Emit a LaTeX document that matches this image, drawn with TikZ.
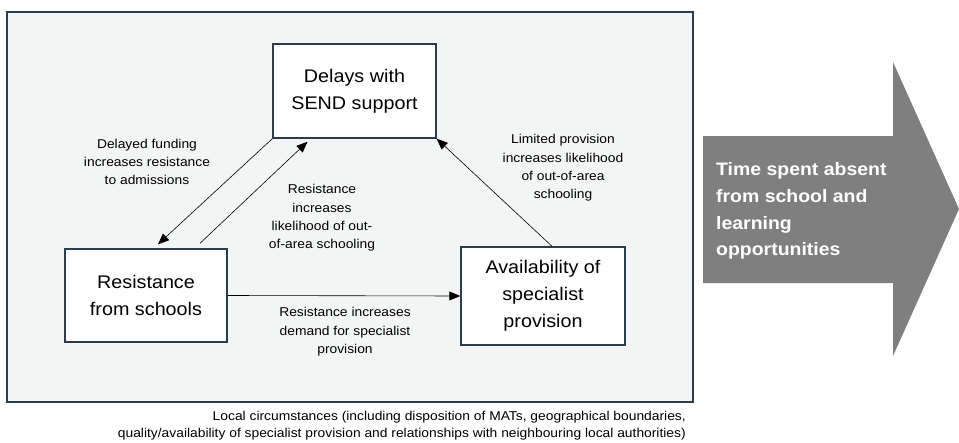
\documentclass[tikz,border=0pt]{standalone}
\usepackage{fontspec}
\setmainfont[FakeStretch=1.08]{Liberation Sans}
\usetikzlibrary{arrows.meta}

\definecolor{framegrey}{HTML}{F3F5F5}
\definecolor{frameline}{HTML}{2B3C4C}
\definecolor{arrowgrey}{HTML}{7F7F7F}

\begin{document}
\begin{tikzpicture}[x=1pt,y=-1pt,
  factor/.style={draw=frameline,line width=1.4pt,fill=white,align=center,
    inner sep=0pt,font=\fontsize{18.3}{27}\selectfont},
  link/.style={draw,line width=0.6pt,-{Triangle[length=11pt,width=9pt]}},
  linklabel/.style={align=center,font=\fontsize{12.8}{18.4}\selectfont}]

\useasboundingbox (0,0) rectangle (959,442);

% context frame
\draw[frameline,line width=1.4pt,fill=framegrey] (7,12) rectangle (693,402);

% factors
\node[factor,minimum width=163pt,minimum height=94pt] (delays) at (354.5,91)
  {Delays with\\SEND support};
\node[factor,minimum width=162pt,minimum height=93pt] (resist) at (146,295.5)
  {Resistance\\from schools};
\node[factor,minimum width=164pt,minimum height=98pt] (avail) at (543,296)
  {Availability of\\specialist\\provision};

% links between factors
\draw[link] (delays.south west) -- ([xshift=12pt,yshift=4pt]resist.north);
\draw[link] ([xshift=54pt,yshift=5pt]resist.north) -- ([xshift=-47pt,yshift=-3pt]delays.south);
\draw[link] (resist.east) -- (avail.west);
\draw[link] ([xshift=9pt]avail.north) -- (delays.south east);

\node[linklabel] (lbl_fund) at (147,162)
  {Delayed funding\\increases resistance\\to admissions};
\node[linklabel] (lbl_out) at (322,218)
  {Resistance\\increases\\likelihood of out-\\of-area schooling};
\node[linklabel] (lbl_limit) at (563,168)
  {Limited provision\\increases likelihood\\of out-of-area\\schooling};
\node[linklabel] (lbl_demand) at (345,332)
  {Resistance increases\\demand for specialist\\provision};

% outcome arrow
\fill[arrowgrey] (703,136) -- (893,136) -- (893,62) -- (959,209)
  -- (893,356) -- (893,283) -- (703,283) -- cycle;
\node[anchor=west,align=left,text=white,inner sep=0pt,
  font=\bfseries\fontsize{18}{26.7}\selectfont] (absence) at (716,211)
  {Time spent absent\\from school and\\learning\\opportunities};

% local circumstances
\node[anchor=north east,align=right,inner sep=0pt,
  font=\fontsize{12.8}{17}\selectfont] (local) at (686,411)
  {Local circumstances (including disposition of MATs, geographical boundaries,\\
   quality/availability of specialist provision and relationships with neighbouring local authorities)};

\end{tikzpicture}
\end{document}
